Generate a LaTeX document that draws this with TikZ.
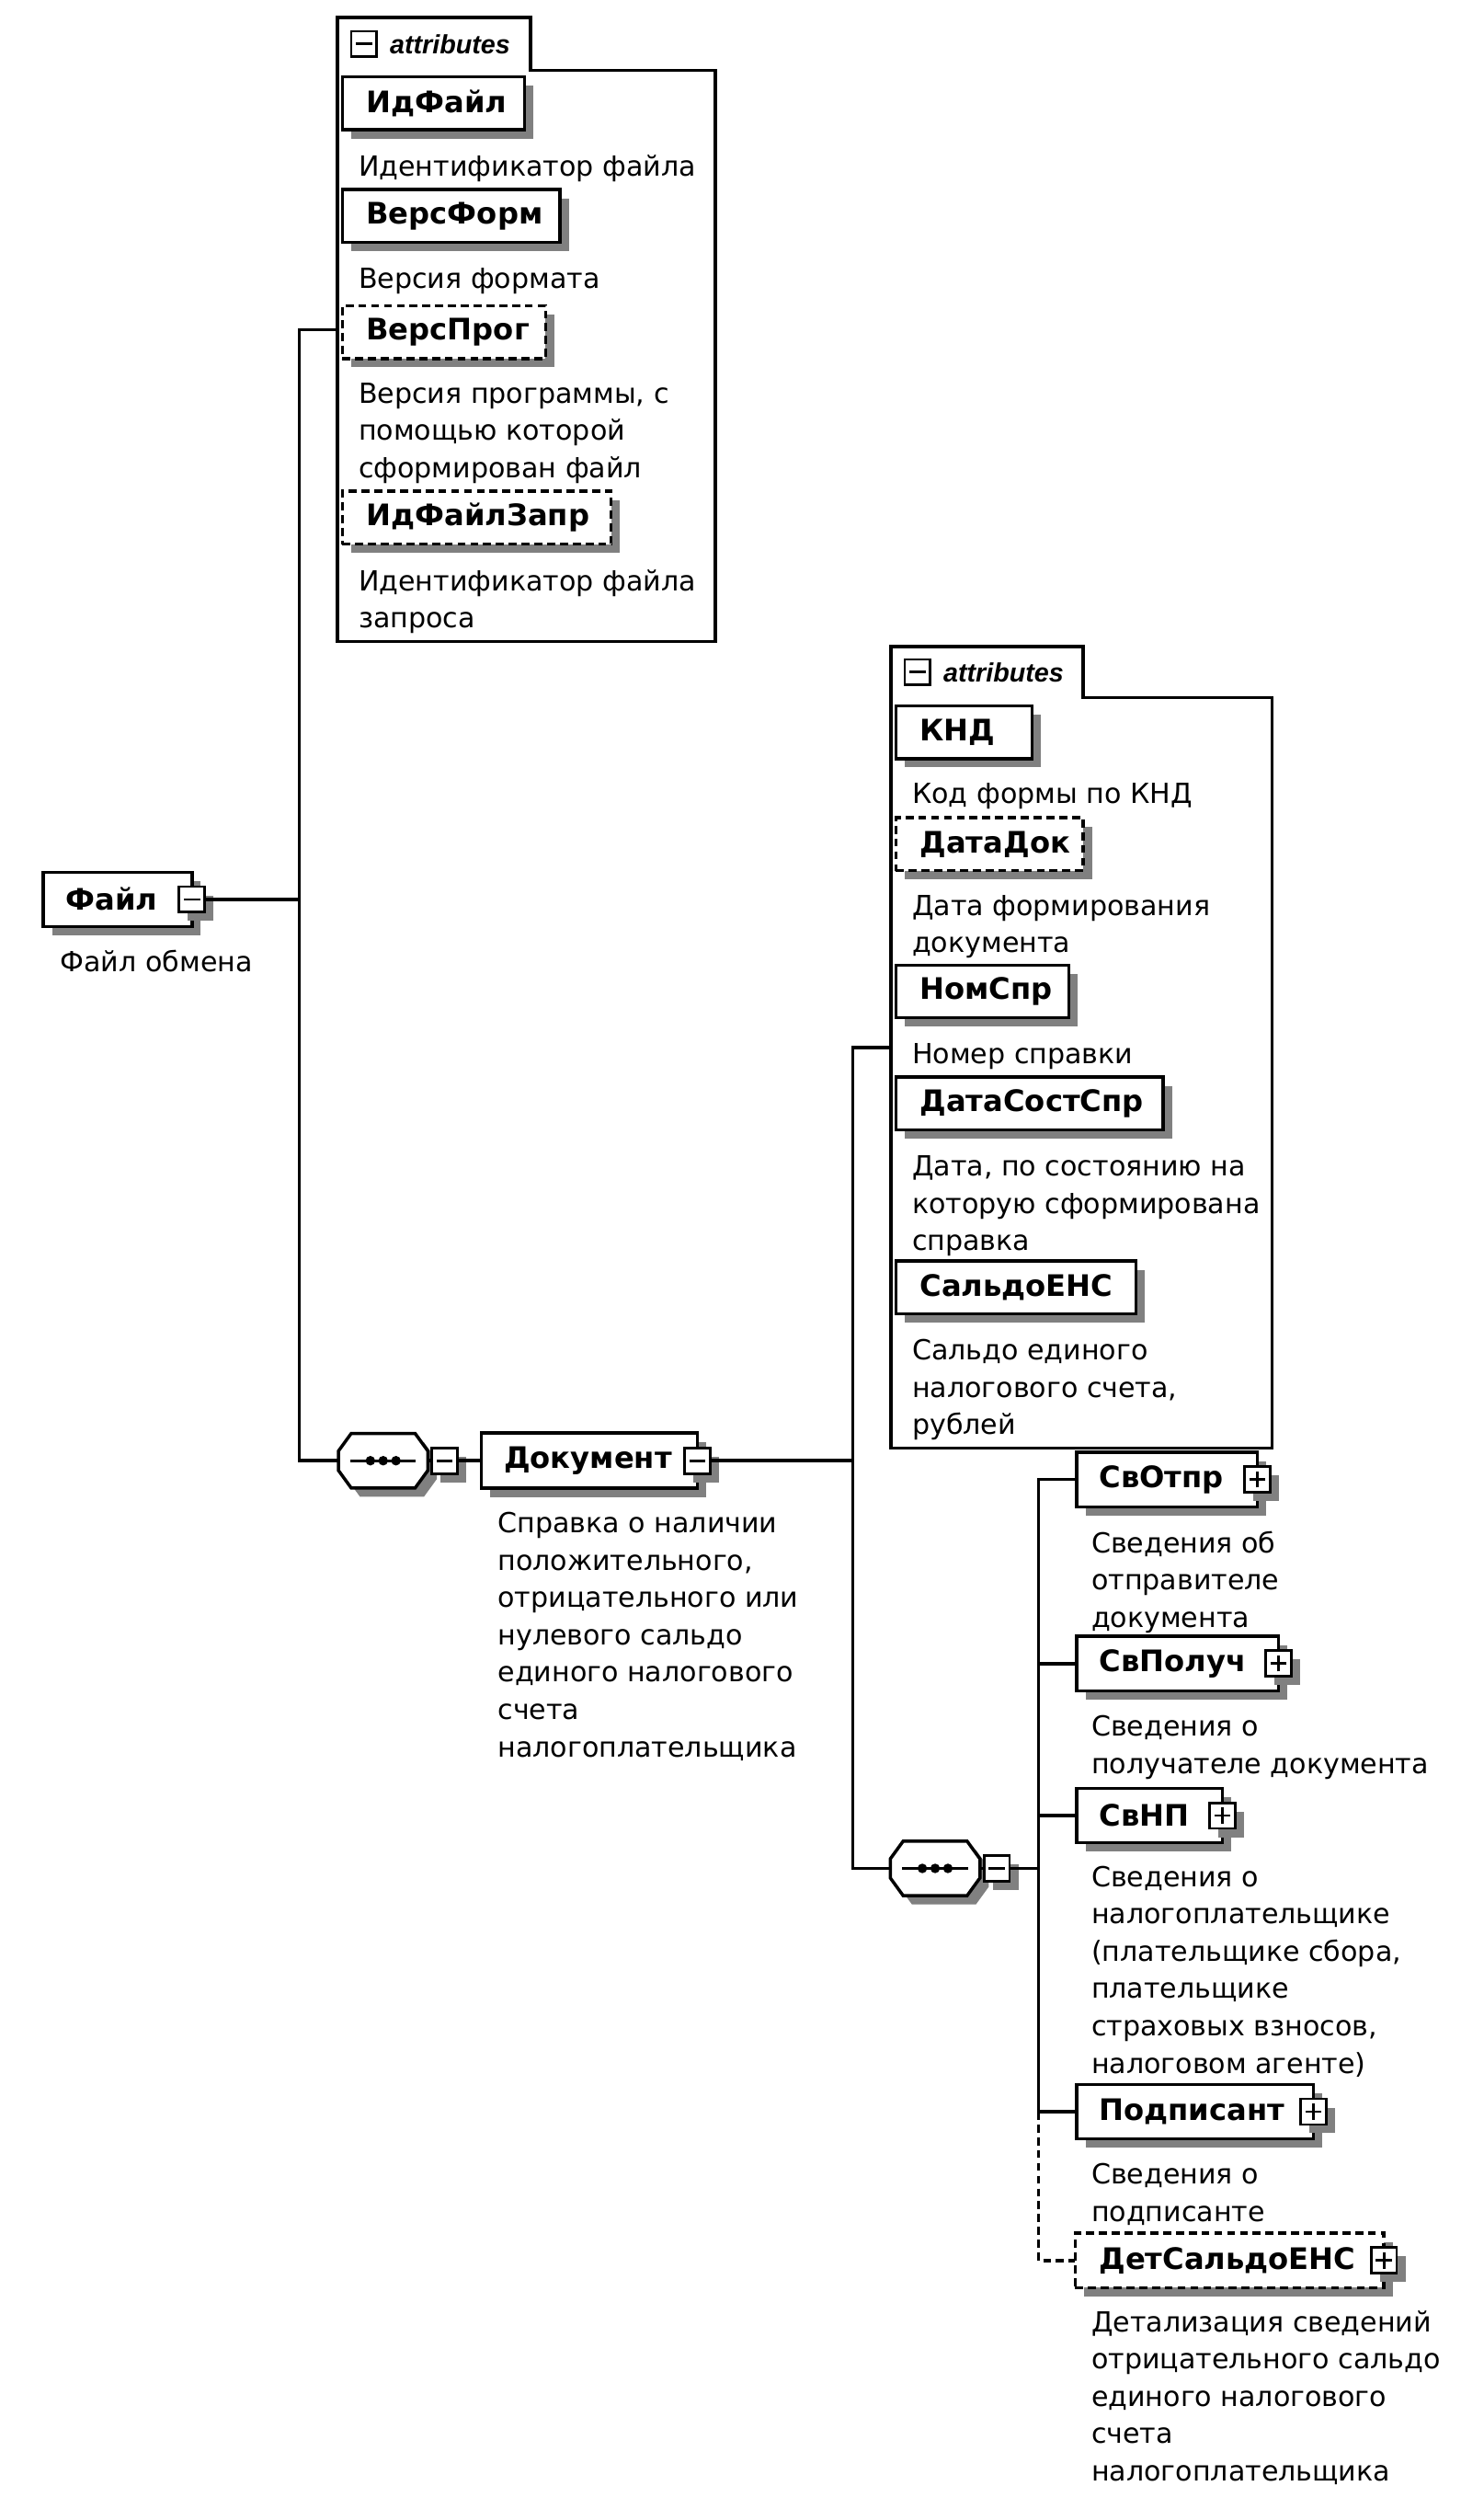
\documentclass[tikz,border=0pt]{standalone}
\usepackage{fontspec}
\setmainfont{DejaVu Sans}
\newfontfamily\attrfont{Liberation Sans}
\usetikzlibrary{shadows}
\newcommand\descsize{\fontsize{17.3}{23.3}\selectfont}
\newcommand\namesize{\fontsize{18.5}{20}\selectfont\bfseries}
\newcommand\fs{\rule{0pt}{13pt}}
\colorlet{shadowcol}{black!50}
\tikzset{
  conn/.style={line width=2pt},
  optconn/.style={conn, dash pattern=on 5pt off 3pt},
  shad/.style={drop shadow={shadow xshift=5.5pt,shadow yshift=-5.5pt,fill=shadowcol,opacity=1}},
  elbox/.style={draw, line width=2pt, fill=white, shad, anchor=north west, outer sep=0pt, inner xsep=0pt, inner ysep=0pt, minimum height=33pt, align=left, font=\namesize},
  optbox/.style={elbox, dash pattern=on 5pt off 3pt},
  btn/.style={draw, line width=1.6pt, fill=white, shad, outer sep=0pt, minimum size=16pt, inner sep=0pt},
  tabbtn/.style={draw, line width=1.6pt, fill=white, minimum size=16pt, inner sep=0pt},
  sign/.style={line width=1.6pt},
  desc/.style={anchor=north west, inner sep=0pt, align=left, font=\descsize},
  grp/.style={line width=2pt},
  grpnode/.style={anchor=north west, inner sep=0pt, outer sep=0pt, draw=none},
  attrlbl/.style={anchor=west, inner sep=0pt, font=\attrfont\fontsize{16.5}{18}\selectfont\bfseries\itshape},
  seqnode/.style={draw=none, inner sep=0pt, outer sep=0pt, minimum width=56pt, minimum height=34pt},
  octline/.style={line width=2pt, fill=white},
}
\newcommand\minusat[2]{\node[btn] (#1) at (#2) {}; \draw[sign] ([xshift=-5pt]#1.center) -- ([xshift=5pt]#1.center);}
\newcommand\plusat[2]{\minusat{#1}{#2}\draw[sign] ([yshift=-5pt]#1.center) -- ([yshift=5pt]#1.center);}
\newcommand\octo[1]{%
  \fill[shadowcol, transform canvas={shift={(5.5pt,-5.5pt)}}] ([xshift=8pt]#1.north west) -- ([xshift=-8pt]#1.north east) -- ([yshift=-11pt]#1.north east) -- ([yshift=11pt]#1.south east) -- ([xshift=-8pt]#1.south east) -- ([xshift=8pt]#1.south west) -- ([yshift=11pt]#1.south west) -- ([yshift=-11pt]#1.north west) -- cycle;
  \draw[octline] ([xshift=8pt]#1.north west) -- ([xshift=-8pt]#1.north east) -- ([yshift=-11pt]#1.north east) -- ([yshift=11pt]#1.south east) -- ([xshift=-8pt]#1.south east) -- ([xshift=8pt]#1.south west) -- ([yshift=11pt]#1.south west) -- ([yshift=-11pt]#1.north west) -- cycle;
  \draw[line width=1.8pt] ([xshift=-20.5pt]#1.center) -- ([xshift=20.5pt]#1.center);
  \fill ([xshift=-8pt]#1.center) circle (3pt); \fill (#1.center) circle (3pt); \fill ([xshift=8pt]#1.center) circle (3pt);}
\begin{document}
\begin{tikzpicture}[x=1pt,y=-1pt]
\fill[white] (0,0) rectangle (927,1567.8);
\useasboundingbox (0,0) rectangle (927,1567.8);

% ---------- attribute group 1 ----------
\node[grpnode, minimum width=236pt, minimum height=390pt] (attr1) at (211,11) {};
\draw[grp] (attr1.south west) -- (attr1.north west) -- ++(120.5,0) -- ++(0,33) -| (attr1.south east) -- cycle;
\node[tabbtn] (tb1) at (227.5,27.5) {};
\draw[sign] ([xshift=-5pt]tb1.center) -- ([xshift=5pt]tb1.center);
\node[attrlbl] (tl1) at (243.5,28) {attributes};

\node[elbox, text width=114pt] (a1) at (214,48) {\noindent\hspace*{15pt}ИдФайл};
\node[desc] (a1d) at (224,96.7) {\fs Идентификатор файла};
\node[elbox, text width=136pt] (a2) at (214,118.5) {\noindent\hspace*{15pt}ВерсФорм};
\node[desc] (a2d) at (224,166.7) {\fs Версия формата};
\node[optbox, text width=127pt] (a3) at (214,191) {\noindent\hspace*{15pt}ВерсПрог};
\node[desc] (a3d) at (224,238.7) {\fs Версия программы, с\\помощью которой\\сформирован файл};
\node[optbox, text width=168pt] (a4) at (214,307) {\noindent\hspace*{15pt}ИдФайлЗапр};
\node[desc] (a4d) at (224,355.7) {\fs Идентификатор файла\\запроса};

% ---------- root ----------
\node[elbox, text width=93pt, minimum height=34pt] (f) at (27,545) {\noindent\hspace*{14pt}Файл};
\minusat{fbtn}{f.east}
\node[desc] (fd) at (37.5,593.7) {\fs Файл обмена};

\coordinate (j1) at (187,562);
\draw[conn] (fbtn.east) -- (j1);

% ---------- sequence 1 ----------
\node[seqnode] (seq1) at (239.5,912.75) {};
\octo{seq1}
\minusat{s1btn}{[xshift=10.5pt]seq1.east}
\draw[conn] (attr1.west) -| (j1) |- (seq1.west);
\draw[conn] (seq1.east) -- (s1btn.west);

% ---------- Документ ----------
\node[elbox, text width=135pt, minimum height=34.5pt] (doc) at (301,895.5) {\noindent\hspace*{14pt}Документ};
\minusat{dbtn}{doc.east}
\draw[conn] (s1btn.east) -- (doc.west);
\node[desc] (docd) at (311,944.7) {\fs Справка о наличии\\положительного,\\отрицательного или\\нулевого сальдо\\единого налогового\\счета\\налогоплательщика};

\coordinate (j2) at (533,912.75);
\draw[conn] (dbtn.east) -- (j2);

% ---------- attribute group 2 ----------
\node[grpnode, minimum width=238pt, minimum height=501pt] (attr2) at (557,404) {};
\draw[grp] (attr2.south west) -- (attr2.north west) -- ++(120,0) -- ++(0,32) -| (attr2.south east) -- cycle;
\node[tabbtn] (tb2) at (573.5,420) {};
\draw[sign] ([xshift=-5pt]tb2.center) -- ([xshift=5pt]tb2.center);
\node[attrlbl] (tl2) at (589.5,420.5) {attributes};

\node[elbox, text width=85pt] (b1) at (560,441) {\noindent\hspace*{15pt}КНД};
\node[desc] (b1d) at (570,488.7) {\fs Код формы по КНД};
\node[optbox, text width=117pt] (b2) at (560,511) {\noindent\hspace*{15pt}ДатаДок};
\node[desc] (b2d) at (570,558.7) {\fs Дата формирования\\документа};
\node[elbox, text width=108pt] (b3) at (560,603) {\noindent\hspace*{15pt}НомСпр};
\node[desc] (b3d) at (570,651.7) {\fs Номер справки};
\node[elbox, text width=167pt] (b4) at (560,673) {\noindent\hspace*{15pt}ДатаСостСпр};
\node[desc] (b4d) at (570,721.7) {\fs Дата, по состоянию на\\которую сформирована\\справка};
\node[elbox, text width=150pt] (b5) at (560,788) {\noindent\hspace*{15pt}СальдоЕНС};
\node[desc] (b5d) at (570,836.7) {\fs Сальдо единого\\налогового счета,\\рублей};

% ---------- sequence 2 ----------
\node[seqnode] (seq2) at (584.5,1167.5) {};
\octo{seq2}
\minusat{s2btn}{[xshift=10.5pt]seq2.east}
\draw[conn] (attr2.west) -| (j2) |- (seq2.west);
\draw[conn] (seq2.east) -- (s2btn.west);
\coordinate (j3) at (649,1167.5);
\draw[conn] (s2btn.east) -- (j3);

% ---------- children ----------
\node[elbox, text width=113pt, minimum height=34pt] (c1) at (673,907.5) {\noindent\hspace*{14pt}СвОтпр};
\plusat{c1btn}{c1.east}
\node[desc] (c1d) at (682,956.7) {\fs Сведения об\\отправителе\\документа};
\node[elbox, text width=126pt, minimum height=34pt] (c2) at (673,1022.5) {\noindent\hspace*{14pt}СвПолуч};
\plusat{c2btn}{c2.east}
\node[desc] (c2d) at (682,1071.7) {\fs Сведения о\\получателе документа};
\node[elbox, text width=91pt, minimum height=34pt] (c3) at (673,1117.5) {\noindent\hspace*{14pt}СвНП};
\plusat{c3btn}{c3.east}
\node[desc] (c3d) at (682,1165.7) {\fs Сведения о\\налогоплательщике\\(плательщике сбора,\\плательщике\\страховых взносов,\\налоговом агенте)};
\node[elbox, text width=148pt, minimum height=34pt] (c4) at (673,1302.5) {\noindent\hspace*{14pt}Подписант};
\plusat{c4btn}{c4.east}
\node[desc] (c4d) at (682,1351.7) {\fs Сведения о\\подписанте};
\node[optbox, text width=193pt, minimum height=34pt] (c5) at (672,1395.5) {\noindent\hspace*{15pt}ДетСальдоЕНС};
\plusat{c5btn}{c5.east}
\node[desc] (c5d) at (682,1443.7) {\fs Детализация сведений\\отрицательного сальдо\\единого налогового\\счета\\налогоплательщика};

\draw[conn] (c1.west) -| (j3) |- (c4.west);
\draw[conn] (c2.west) -- (c2.west -| j3);
\draw[conn] (c3.west) -- (c3.west -| j3);
\draw[optconn] (c4.west -| j3) |- (c5.west);
\end{tikzpicture}
\end{document}
